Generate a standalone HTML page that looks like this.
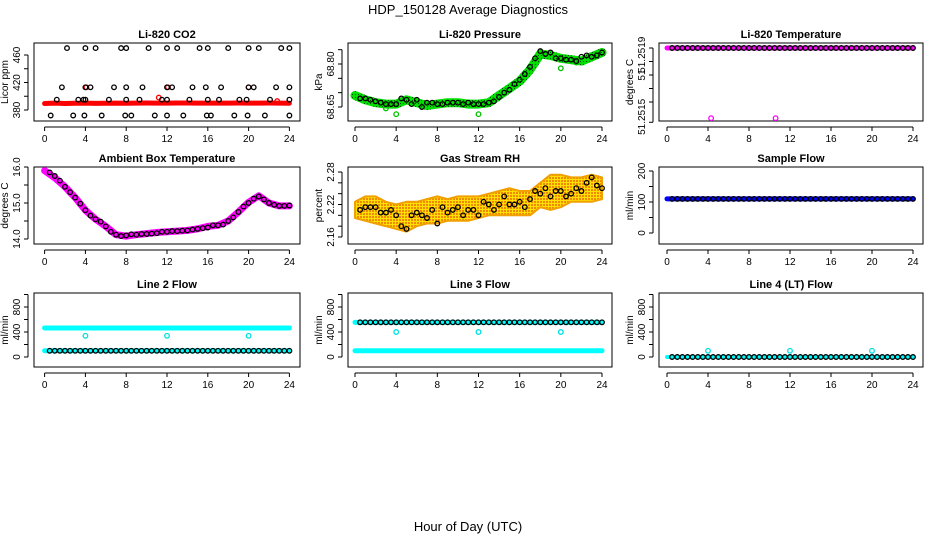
<!DOCTYPE html>
<html><head><meta charset="utf-8"><style>
html,body{margin:0;padding:0;background:#fff;}
svg{display:block;font-family:"Liberation Sans",sans-serif;}
</style></head><body>
<svg id="chart" width="936" height="540" viewBox="0 0 936 540" xmlns="http://www.w3.org/2000/svg">
<defs>
<pattern id="orangeDots" width="3" height="3" patternUnits="userSpaceOnUse"><rect width="3" height="3" fill="#ffe000"/><rect width="2" height="2" fill="#f08a00"/></pattern>
<pattern id="greenDots" width="3" height="3" patternUnits="userSpaceOnUse"><rect width="3" height="3" fill="#00e000"/><rect x="1" y="1" width="1" height="1" fill="#005000"/></pattern>
</defs>
<text x="468" y="14" text-anchor="middle" font-size="13">HDP_150128  Average Diagnostics</text>
<text x="468" y="531" text-anchor="middle" font-size="13">Hour of Day (UTC)</text>
</svg>
<script>
// shared hours for black average circles
const hours = [0.5,1,1.5,2,2.5,3,3.5,4,4.5,5,5.5,6,6.5,7,7.5,8,8.5,9,9.5,10,10.5,11,11.5,12,12.5,13,13.5,14,14.5,15,15.5,16,16.5,17,17.5,18,18.5,19,19.5,20,20.5,21,21.5,22,22.5,23,23.5,24];
const bandHours = [0,1,2,3,4,5,6,7,8,9,10,11,12,13,14,15,16,17,18,19,20,21,22,23,24];
const xTicks = [0,4,8,12,16,20,24];

// CO2
const co2Hours = [2.2,4,5,7.5,8,10.2,12,13,15.2,16,18,20,21,23.2,24, 1.7,4,4.5,6.8,8,9.6,12,12.5,14.5,15.8,17.3,20,20.5,22.7,24, 1.2,3.3,3.8,4,6.3,8,9.3,11.5,12,14.2,16,17.1,19.1,19.8,22.1,24, 0.6,2.8,3.9,5.6,7.9,8.5,10.8,12,13.6,15.9,16.3,18.6,19.9,21.6,24];
const co2Values = [470,470,470,470,470,470,470,470,470,470,470,470,470,470,470, 413,413,413,413,413,413,413,413,413,413,413,413,413,413,413, 395,395,395,395,395,395,395,395,395,395,395,395,395,395,395,395, 372,372,372,372,372,372,372,372,372,372,372,372,372,372,372];
const co2Band = [389.5,390,389.5,389.8,390,389.6,389.7,390,389.8,390,390.2,390,390,390.2,390.2,390,390.1,390,390,390.2,390,390,390.2,390,389.9];
const co2OutHours = [4.1,12.1,20,11.2,22.8];
const co2OutValues = [413,413,413,398,393];

// Pressure
const presValues = [68.68,68.68,68.675,68.67,68.665,68.66,68.66,68.66,68.68,68.675,68.66,68.675,68.65,68.665,68.665,68.66,68.66,68.665,68.665,68.665,68.66,68.665,68.66,68.66,68.66,68.665,68.67,68.685,68.70,68.71,68.73,68.745,68.765,68.79,68.82,68.845,68.835,68.84,68.82,68.82,68.815,68.815,68.81,68.825,68.83,68.825,68.83,68.84];
const presBand = [68.69,68.675,68.665,68.66,68.66,68.675,68.665,68.655,68.66,68.665,68.665,68.66,68.66,68.665,68.69,68.715,68.74,68.78,68.835,68.83,68.82,68.815,68.81,68.825,68.84];
const presOutHours = [3,4,12,20,21.5];
const presOutValues = [68.645,68.625,68.625,68.785,68.805];

// Li-820 temperature
const tempValues = [51.2519];
const tempOutHours = [4.3,10.6];
const tempOutValues = [51.25138,51.25138];

// Ambient box temperature
const ambValues = [15.85,15.75,15.62,15.45,15.3,15.15,14.98,14.8,14.65,14.55,14.48,14.35,14.2,14.12,14.08,14.1,14.13,14.12,14.14,14.14,14.15,14.16,14.2,14.2,14.22,14.22,14.23,14.24,14.26,14.28,14.3,14.32,14.38,14.38,14.4,14.5,14.6,14.75,14.9,15.0,15.12,15.18,15.1,15.0,14.95,14.92,14.92,14.93];
const ambBand = [15.9,15.7,15.45,15.15,14.8,14.55,14.35,14.12,14.08,14.12,14.15,14.18,14.2,14.22,14.24,14.28,14.35,14.38,14.5,14.75,15.02,15.2,15.0,14.92,14.92];

// Gas stream RH
const rhValues = [2.21,2.215,2.215,2.215,2.205,2.205,2.21,2.20,2.18,2.175,2.20,2.205,2.20,2.195,2.21,2.185,2.215,2.205,2.21,2.215,2.20,2.21,2.21,2.20,2.225,2.22,2.21,2.22,2.235,2.22,2.22,2.225,2.215,2.23,2.245,2.24,2.25,2.235,2.245,2.245,2.235,2.24,2.25,2.245,2.26,2.27,2.255,2.25];
const rhUpper = [2.225,2.235,2.235,2.225,2.22,2.225,2.225,2.23,2.235,2.23,2.235,2.235,2.235,2.24,2.245,2.25,2.245,2.245,2.26,2.275,2.275,2.27,2.27,2.275,2.27];
const rhLower = [2.195,2.19,2.185,2.18,2.175,2.17,2.18,2.185,2.185,2.19,2.19,2.19,2.195,2.20,2.20,2.20,2.20,2.20,2.215,2.21,2.215,2.225,2.225,2.225,2.23];

// flows
const sampleFlow = [110];
const line2Cyan = [465];
const line2Black = [100];
const line3Black = [555];
const line3Cyan = [100];
const line4Black = [0];
const outHours = [4,12,20];
const line2Out = [340,340,340];
const line3Out = [400,400,400];
const line4Out = [100,100,100];

const NS = "http://www.w3.org/2000/svg";
const svg = document.getElementById('chart');
function mk(tag, attrs, parent){ const e=document.createElementNS(NS,tag); for(const k in attrs) e.setAttribute(k,attrs[k]); (parent||svg).appendChild(e); return e; }

const cols = [{l:34,r:300,x0:44.6,x24:289.4},{l:348,r:612,x0:355,x24:602},{l:659,r:923,x0:667,x24:913}];
const rows = [{t:43,b:121},{t:167,b:244},{t:293,b:367}];

function panel(name, title, ci, ri, ylab, yv1, py1, yv2, py2, ticks, labels){
  const c=cols[ci], r=rows[ri];
  const g=mk('g',{});
  
  
  const X = h => c.x0 + (h/24)*(c.x24-c.x0);
  const Y = v => py1 + (v-yv1)*(py2-py1)/(yv2-yv1);
  const box=mk('rect',{x:c.l,y:r.t,width:c.r-c.l,height:r.b-r.t,fill:'none',stroke:'#000','stroke-width':1},g);
  
  
  const tt=mk('text',{x:(c.l+c.r)/2,y:r.t-5,'text-anchor':'middle','font-size':11,'font-weight':'bold'},g);
  tt.textContent=title;
  
  
  const xa=mk('g',{},g);
  
  
  mk('line',{x1:X(0),x2:X(24),y1:r.b+6,y2:r.b+6,stroke:'#000'},xa);
  xTicks.forEach(t=>{
    mk('line',{x1:X(t),x2:X(t),y1:r.b+6,y2:r.b+10,stroke:'#000'},xa);
    const tx=mk('text',{x:X(t),y:r.b+21,'text-anchor':'middle','font-size':10},xa);
    tx.textContent=t;
  });
  const ya=mk('g',{},g);
  
  
  const ax=c.l-6;
  mk('line',{x1:ax,x2:ax,y1:Y(ticks[0]),y2:Y(ticks[ticks.length-1]),stroke:'#000'},ya);
  ticks.forEach(t=>mk('line',{x1:ax-4,x2:ax,y1:Y(t),y2:Y(t),stroke:'#000'},ya));
  labels.forEach(l=>{
    const y=Y(l[0]);
    const tx=mk('text',{x:ax-8,y:y,'text-anchor':'middle','font-size':10,transform:`rotate(-90 ${ax-8} ${y})`},ya);
    tx.textContent=l[1];
  });
  const yl=mk('text',{x:c.l-26,y:(r.t+r.b)/2,'text-anchor':'middle','font-size':10,transform:`rotate(-90 ${c.l-26} ${(r.t+r.b)/2})`},g);
  yl.textContent=ylab;
  
  
  return {g,X,Y};
}
function band(p, hs, vals, color, w, nm){
  const pts=hs.map((h,i)=>p.X(h).toFixed(1)+','+p.Y(vals[i]).toFixed(1)).join(' ');
  const e=mk('polyline',{points:pts,fill:'none',stroke:color,'stroke-width':w,'stroke-linejoin':'round','stroke-linecap':'round'},p.g);
  
  
}
function level(p, v, color, w, nm, h0){
  const e=mk('line',{x1:p.X(h0||0),x2:p.X(24),y1:p.Y(v),y2:p.Y(v),stroke:color,'stroke-width':w,'stroke-linecap':'round'},p.g);
  
  
}
function area(p, hs, up, lo, fill, nm){
  const a=hs.map((h,i)=>p.X(h).toFixed(1)+','+p.Y(up[i]).toFixed(1));
  const b=hs.map((h,i)=>p.X(h).toFixed(1)+','+p.Y(lo[i]).toFixed(1)).reverse();
  const e=mk('polygon',{points:a.concat(b).join(' '),fill:fill,stroke:'#f0a000','stroke-width':2,'stroke-linejoin':'round'},p.g);
  
  
}
function circles(p, hs, vals, color, nm, r){
  hs.forEach((h,i)=>{
    const v = vals.length===1 ? vals[0] : vals[i];
    const e=mk('circle',{cx:p.X(h).toFixed(1),cy:p.Y(v).toFixed(1),r:r||2.3,fill:'none',stroke:color,'stroke-width':1.3},p.g);
    
    
  });
}

let p=panel('co2-panel','Li-820 CO2',0,0,'Licor ppm',380,110,460,55,[380,400,420,440,460],[[380,'380'],[420,'420'],[460,'460']]);
band(p,bandHours,co2Band,'#ff0000',5,'co2-raw-band');
circles(p,co2OutHours,co2OutValues,'#ff0000','co2-raw-outlier');
circles(p,co2Hours,co2Values,'#000','co2-average-point');

p=panel('pressure-panel','Li-820 Pressure',1,0,'kPa',68.65,107,68.80,64,[68.65,68.70,68.75,68.80,68.85],[[68.65,'68.65'],[68.80,'68.80']]);
band(p,bandHours,presBand,'url(#greenDots)',9,'pressure-raw-band');
circles(p,presOutHours,presOutValues,'#00c000','pressure-raw-outlier');
circles(p,hours,presValues,'#000','pressure-average-point');

p=panel('li820-temperature-panel','Li-820 Temperature',2,0,'degrees C',51.2515,102,51.2519,48,[51.25135,51.2515,51.25160,51.2517,51.2518,51.2519],[[51.25139,'51.2515'],[51.2517,'51'],[51.25185,'51.2519']]);
level(p,tempValues[0],'#ff00ff',5,'li820-temperature-raw-band');
circles(p,hours,tempValues,'#000','li820-temperature-average-point');
circles(p,tempOutHours,tempOutValues,'#ff00ff','li820-temperature-outlier');

p=panel('ambient-temperature-panel','Ambient Box Temperature',0,1,'degrees C',14.0,239,16.0,167,[14.0,14.5,15.0,15.5,16.0],[[14.0,'14.0'],[15.0,'15.0'],[16.0,'16.0']]);
band(p,bandHours,ambBand,'#ff00ff',7,'ambient-raw-band');
circles(p,hours,ambValues,'#000','ambient-average-point');

p=panel('rh-panel','Gas Stream RH',1,1,'percent',2.16,237,2.28,172,[2.16,2.18,2.20,2.22,2.24,2.26,2.28],[[2.16,'2.16'],[2.22,'2.22'],[2.28,'2.28']]);
area(p,bandHours,rhUpper,rhLower,'url(#orangeDots)','rh-raw-band');
circles(p,hours,rhValues,'#000','rh-average-point');

p=panel('sample-flow-panel','Sample Flow',2,1,'ml/min',0,233,200,171,[0,50,100,150,200],[[0,'0'],[100,'100'],[200,'200']]);
level(p,sampleFlow[0],'#0000ff',5,'sample-flow-raw-band');
circles(p,hours,sampleFlow,'#000','sample-flow-average-point');

const fT=[0,200,400,600,800,1000], fL=[[0,'0'],[400,'400'],[800,'800']];
p=panel('line2-flow-panel','Line 2 Flow',0,2,'ml/min',0,357,800,307,fT,fL);
level(p,line2Cyan[0],'#00ffff',5,'line2-raw-high-band');
level(p,line2Black[0],'#00ffff',5,'line2-raw-low-band');
circles(p,outHours,line2Out,'#00e0e0','line2-outlier');
circles(p,hours,line2Black,'#000','line2-average-point');

p=panel('line3-flow-panel','Line 3 Flow',1,2,'ml/min',0,357,800,307,fT,fL);
level(p,line3Black[0],'#00ffff',5,'line3-raw-high-band');
level(p,line3Cyan[0],'#00ffff',5,'line3-raw-low-band');
circles(p,outHours,line3Out,'#00e0e0','line3-outlier');
circles(p,hours,line3Black,'#000','line3-average-point');

p=panel('line4-flow-panel','Line 4 (LT) Flow',2,2,'ml/min',0,357,800,307,fT,fL);
level(p,line4Black[0],'#00ffff',4,'line4-raw-band');
circles(p,outHours,line4Out,'#00e0e0','line4-outlier');
circles(p,hours,line4Black,'#000','line4-average-point');
</script>
</body></html>
